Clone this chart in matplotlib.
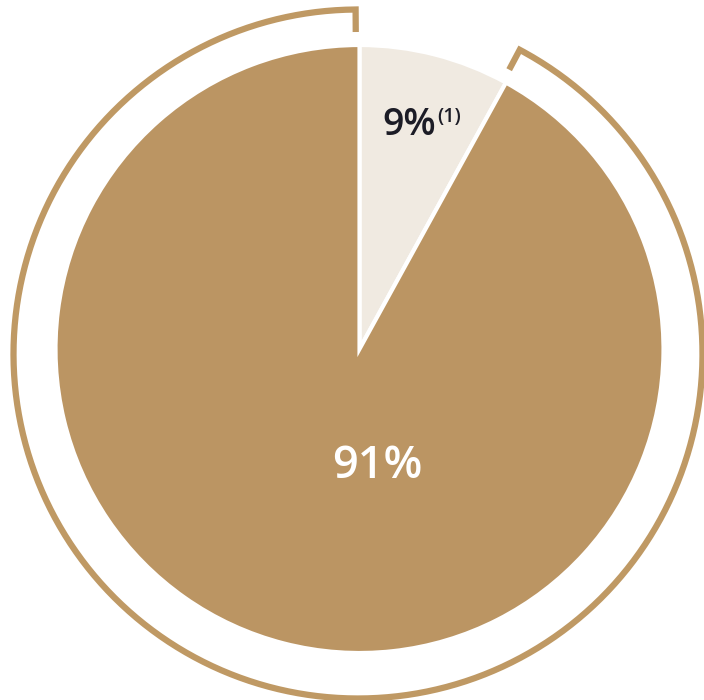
import numpy as np
import matplotlib as mpl
mpl.use('Agg')
import matplotlib.pyplot as plt

# data
labels = ['9%', '91%']
note = '(1)'
# wedge shares as drawn in the picture (the small wedge reads ~8% of the circle)
shares = [8, 92]
colors = ['#f0eae1', '#bb9563']
ring_color = '#bf9964'
text_colors = ['#1c1c26', 'white']

fig = plt.figure(figsize=(7.04, 7.0), dpi=100)
ax = fig.add_axes([0, 0, 1, 1])

# pie, centre in pixel space (y up)
cx, cy, r = 359.5, 351, 304
ax.pie(shares, startangle=90, counterclock=False, colors=colors,
       center=(cx, cy), radius=r,
       wedgeprops=dict(edgecolor='white', linewidth=3))

# outer ring round the big wedge, with radial ticks at both ends
rx, ry, rr, r_in = 358, 346, 344.5, 322
a_start = 90 - 360 * shares[0] / 100 + 0.8   # right end, near wedge boundary
a_end = 90.4                                  # top end
th = np.radians(np.linspace(a_end, a_start + 360, 400))
xs = np.concatenate([[rx + r_in * np.cos(th[0])], rx + rr * np.cos(th),
                     [rx + r_in * np.cos(th[-1])]])
ys = np.concatenate([[ry + r_in * np.sin(th[0])], ry + rr * np.sin(th),
                     [ry + r_in * np.sin(th[-1])]])
ax.plot(xs, ys, color=ring_color, lw=4.5, solid_joinstyle='miter',
        solid_capstyle='butt')

font = ['Open Sans', 'DejaVu Sans']
ax.text(382, 700 - 135, labels[0], fontsize=27, fontweight='semibold',
        color=text_colors[0], family=font, ha='left', va='baseline')
ax.text(437, 700 - 122, note, fontsize=14, fontweight='semibold',
        color=text_colors[0], family=font, ha='left', va='baseline')
ax.text(377.5, 700 - 478, labels[1], fontsize=32.5, fontweight='semibold',
        color=text_colors[1], family=font, ha='center', va='baseline')

ax.set_xlim(0, 704)
ax.set_ylim(0, 700)
ax.set_aspect('equal')
ax.axis('off')
fig.savefig('out.png', dpi=100)
